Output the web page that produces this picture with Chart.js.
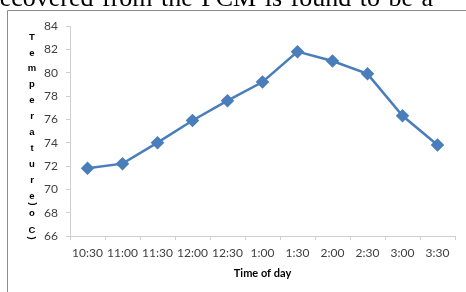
<!DOCTYPE html>
<html>
<head>
<meta charset="utf-8">
<script src="https://cdn.jsdelivr.net/npm/chart.js@4.4.0/dist/chart.umd.min.js"></script>
<style>
  html, body { margin: 0; padding: 0; background: #fff; }
  #wrap { position: relative; width: 466px; height: 292px; overflow: hidden; }
  canvas { position: absolute; left: 0; top: 0; }
</style>
</head>
<body>
<div id="wrap"><canvas id="tempChart" width="466" height="292"></canvas></div>
<script>
const timeLabels = ['10:30', '11:00', '11:30', '12:00', '12:30', '1:00', '1:30', '2:00', '2:30', '3:00', '3:30'];
const temperatures = [71.8, 72.2, 74.0, 75.9, 77.6, 79.2, 81.8, 81.0, 79.9, 76.3, 73.8];
const yTitleChars = ['T', 'e', 'm', 'p', 'e', 'r', 'a', 't', 'u', 'r', 'e', '(', 'o', 'C', ')'];
const pageText = 'recovered from the PCM is found to be a';

// page text + frame + stacked axis title
const decorations = {
  id: 'decorations',
  beforeDraw(chart) {
    const c = chart.ctx;
    c.save();
    c.fillStyle = '#fff';
    c.fillRect(0, 0, chart.width, chart.height);
    c.fillStyle = '#000';
    c.font = '26px "Liberation Serif"';
    c.textBaseline = 'alphabetic';
    c.textAlign = 'left';
    c.wordSpacing = '2px'; // justified paragraph line
    c.fillText(pageText, -9, 6);
    c.wordSpacing = '0px';
    c.strokeStyle = '#8c8c8c';
    c.lineWidth = 1;
    c.beginPath();
    c.moveTo(7.5, 292);
    c.lineTo(7.5, 10.5);
    c.lineTo(466, 10.5);
    c.stroke();
    c.restore();
  },
  afterDraw(chart) {
    const c = chart.ctx;
    c.save();
    c.fillStyle = '#000';
    c.font = 'bold 9.5px "Liberation Sans"';
    c.textAlign = 'center';
    c.textBaseline = 'middle';
    const ys = [];
    for (let i = 0; i < 11; i++) ys.push(37 + 15.9 * i);
    ys.push(204, 213, 230, 238);
    yTitleChars.forEach((ch, i) => {
      c.save();
      c.translate(32, ys[i]);
      if (ch === '(' || ch === ')') c.rotate(ch === '(' ? -Math.PI / 2 : Math.PI / 2);
      c.fillText(ch, 0, 0);
      c.restore();
    });
    c.restore();
  }
};

new Chart(document.getElementById('tempChart'), {
  type: 'line',
  data: {
    labels: timeLabels,
    datasets: [{
      label: 'Temperature',
      data: temperatures,
      borderColor: '#4a7ebb',
      backgroundColor: '#4a7ebb',
      borderWidth: 2.5,
      pointStyle: 'rectRot',
      pointRadius: 5,
      tension: 0
    }]
  },
  options: {
    responsive: false,
    animation: false,
    layout: { padding: { left: 0, top: 26, right: 11, bottom: 0 } },
    plugins: { legend: { display: false }, tooltip: { enabled: false } },
    scales: {
      x: {
        offset: true,
        grid: { drawOnChartArea: false, drawTicks: true, tickLength: 4, color: '#d0d0d0', offset: true },
        border: { color: '#d0d0d0' },
        ticks: { color: '#404040', font: { family: 'Lato', size: 12 }, padding: 6, maxRotation: 0, autoSkip: false },
        title: { display: true, text: 'Time of day', color: '#000', font: { family: 'Lato', size: 11, weight: 'bold' }, padding: { top: 0, bottom: 12.4 } },
        afterFit(scale) { scale.height = 56; }
      },
      y: {
        min: 66,
        max: 84,
        ticks: { stepSize: 2, color: '#404040', font: { family: 'Lato', size: 12 }, padding: 8 },
        grid: { drawOnChartArea: false, drawTicks: true, tickLength: 4, color: '#d0d0d0' },
        border: { color: '#d0d0d0' },
        afterFit(scale) { scale.width = 70; }
      }
    }
  },
  plugins: [decorations]
});
</script>
</body>
</html>
